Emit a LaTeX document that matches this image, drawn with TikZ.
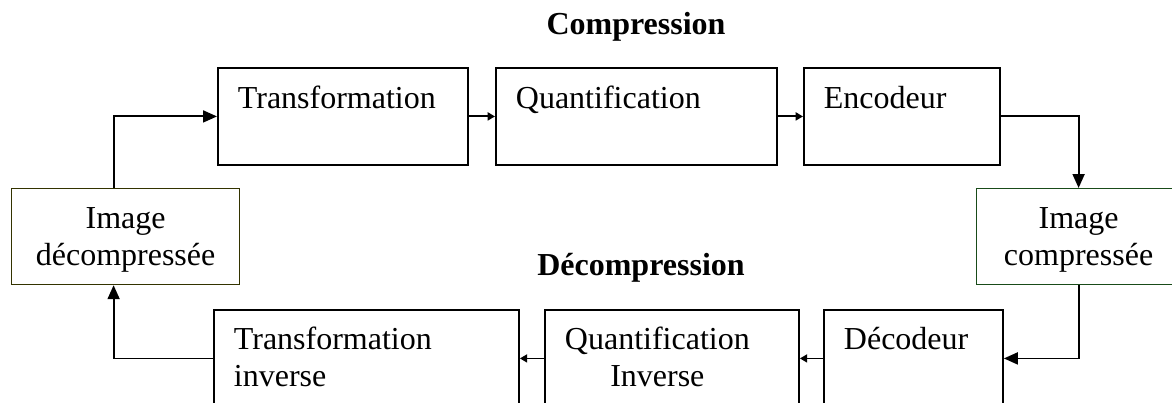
\documentclass[tikz,border=0pt]{standalone}
\usepackage{fontspec}
\setmainfont{Liberation Serif}
\usetikzlibrary{arrows.meta, positioning}
\definecolor{olivedark}{RGB}{51,51,0}
\definecolor{greendark}{RGB}{25,75,25}
\tikzstyle{block} = [draw=black, line width=1.4pt, inner xsep=15pt, inner ysep=0pt, text height=30.75pt, text depth=42pt, align=left]
\tikzstyle{lowblock} = [block, text height=30pt, text depth=42.75pt]
\tikzstyle{imgbox} = [draw, line width=0.9pt, inner xsep=15pt, inner ysep=0pt, text height=30pt, text depth=42pt, align=center]
\tikzstyle{title} = [font=\fontsize{24}{27.75}\selectfont\bfseries, anchor=base]
\tikzstyle{arrow} = [line width=1.4pt, -{Triangle[length=10.5pt, width=9pt]}]
\tikzstyle{shortarrow} = [line width=1.4pt, -{Triangle[length=5.5pt, width=6pt]}]

\begin{document}
\begin{tikzpicture}[x=0.75pt, y=-0.75pt, font=\fontsize{24}{27.75}\selectfont]
\clip (0,0) rectangle (1172,403);

\node (comptitle) [title] at (636,35) {Compression};
\node (decomptitle) [title] at (641,275) {Décompression};

\node (transf) [block, anchor=north west, text width=157.5pt] at (217,67) {Transformation};
\node (quant) [block, right=19.6pt of transf, text width=180.75pt] {Quantification};
\node (encod) [block, right=18.85pt of quant, text width=117pt] {Encodeur};

\node (decomp) [imgbox, draw=olivedark, anchor=north west, text width=141pt] at (11,188) {Image\\décompressée};
\node (comp) [imgbox, draw=greendark, anchor=north west, text width=123pt] at (976,188) {Image\\compressée};

\node (tinv) [lowblock, anchor=north west, text width=198.75pt] at (213,309) {Transformation\\inverse};
\node (qinv) [lowblock, right=18.1pt of tinv, text width=160.5pt] {{\begin{tabular}[t]{@{}c@{}}Quantification\\Inverse\end{tabular}}};
\node (decod) [lowblock, right=17.35pt of qinv, text width=104.25pt] {Décodeur};

\draw [arrow] ([xshift=-9pt]decomp.north) |- (transf.west);
\draw [shortarrow] (transf) -- (quant);
\draw [shortarrow] (quant) -- (encod);
\draw [arrow] (encod.east) -| (comp.north);
\draw [arrow] (comp.south) |- (decod.east);
\draw [shortarrow] (decod) -- (qinv);
\draw [shortarrow] (qinv) -- (tinv);
\draw [arrow] (tinv.west) -| ([xshift=-9pt]decomp.south);

\end{tikzpicture}
\end{document}
